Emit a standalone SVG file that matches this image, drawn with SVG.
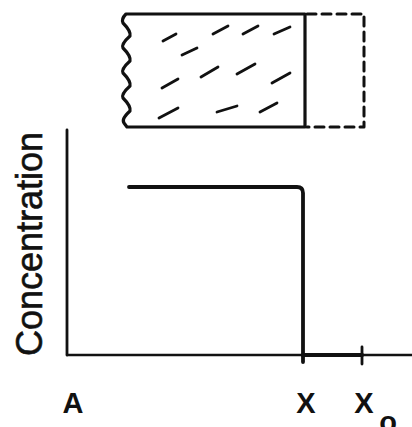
<svg xmlns="http://www.w3.org/2000/svg" width="412" height="427" viewBox="0 0 412 427">
<style>
.ln{fill:none;stroke:#111;stroke-linecap:round;stroke-linejoin:round}
.h{fill:none;stroke:#111;stroke-width:2.8;stroke-linecap:round}
.lbl{font-family:"Liberation Sans",Arial,sans-serif;fill:#111}
</style>
<rect width="412" height="427" fill="#fff"/>
<g id="sample">
<path class="ln" stroke-width="3.2" d="M305,14 H126 Q121,19 123,23 Q131,31 130,36 Q121,44 123,48 Q131,56 130,61 Q121,69 123,73 Q131,81 130,86 Q121,94 123,98 Q131,106 130,111 Q121,119 124,123 L127,127 H305 Z"/>
<path class="ln" stroke-width="3" stroke-dasharray="9,6" stroke-linecap="butt" d="M307,14 H364 V127 H307"/>
<g id="hatch">
<line class="h" x1="163" y1="41" x2="176" y2="34"/>
<line class="h" x1="213" y1="34" x2="228" y2="26"/>
<line class="h" x1="243" y1="34" x2="258" y2="26"/>
<line class="h" x1="274" y1="34" x2="290" y2="27"/>
<line class="h" x1="182" y1="55" x2="197" y2="48"/>
<line class="h" x1="162" y1="88" x2="178" y2="79"/>
<line class="h" x1="201" y1="77" x2="218" y2="67"/>
<line class="h" x1="237" y1="74" x2="255" y2="64"/>
<line class="h" x1="272" y1="83" x2="290" y2="73"/>
<line class="h" x1="159" y1="118" x2="178" y2="108"/>
<line class="h" x1="217" y1="112" x2="237" y2="106"/>
<line class="h" x1="260" y1="112" x2="277" y2="103"/>
</g>
</g>
<g id="axes">
<line class="ln" stroke-width="2.8" x1="67" y1="130" x2="67" y2="355"/>
<line class="ln" stroke-width="2.4" stroke-linecap="butt" x1="67" y1="355" x2="412" y2="355"/>
<line class="ln" stroke-width="4.2" x1="303" y1="355" x2="362" y2="355"/>
<line class="ln" stroke-width="2.8" x1="362" y1="347" x2="362" y2="364"/>
</g>
<g id="profile">
<path class="ln" stroke-width="3.8" d="M129,187 H297 Q303,187 303,193 V362"/>
</g>
<g id="labels">
<text class="lbl" font-size="36" text-anchor="middle" stroke="#111" stroke-width="0.6" transform="translate(42,244) rotate(-90)">Concentration</text>
<text class="lbl" font-size="29" font-weight="bold" x="73" y="413" text-anchor="middle">A</text>
<text class="lbl" font-size="29" font-weight="bold" x="306" y="413" text-anchor="middle">X</text>
<text class="lbl" font-size="29" font-weight="bold" x="364" y="413" text-anchor="middle">X</text>
<text class="lbl" font-size="29" font-weight="bold" x="388" y="432" text-anchor="middle">o</text>
</g>
</svg>
